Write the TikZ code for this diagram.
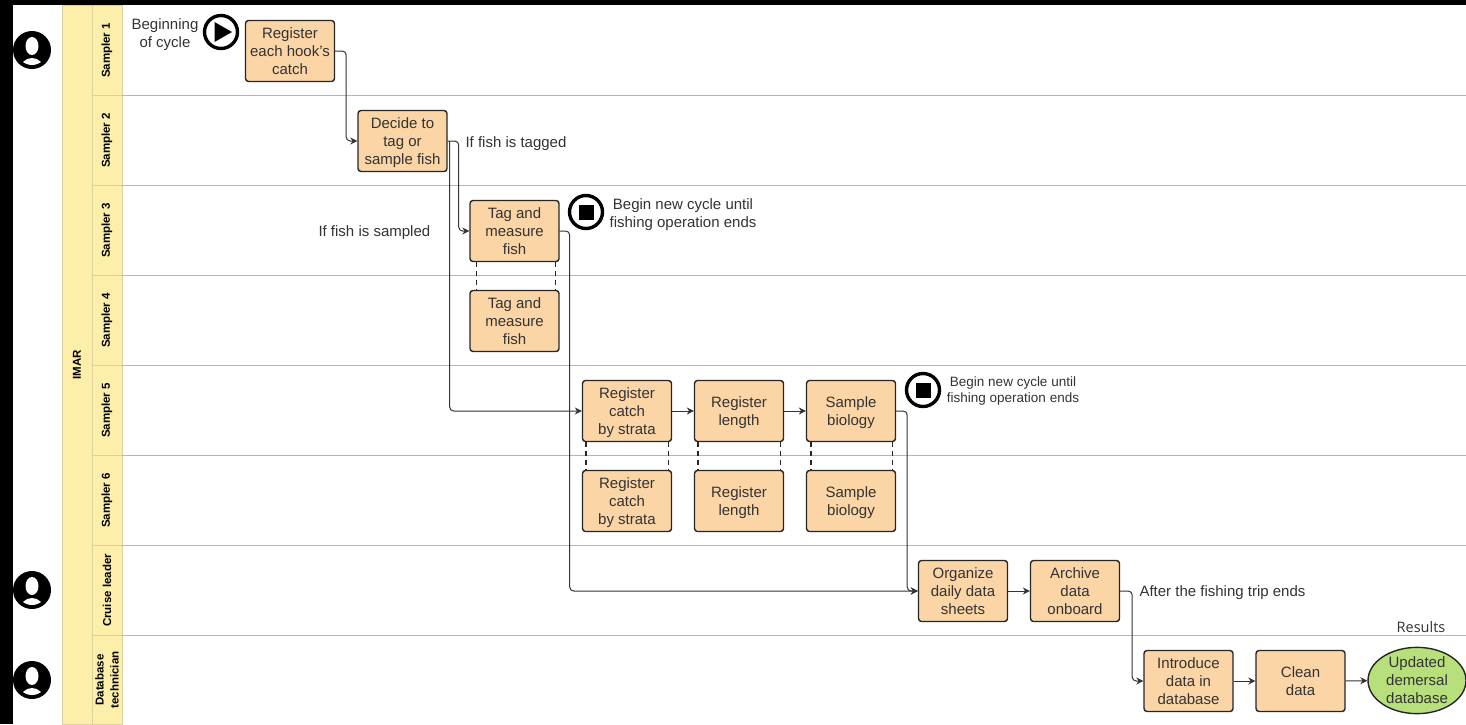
\documentclass[tikz,border=0pt]{standalone}
\usepackage{fontspec}
\setmainfont{Liberation Sans}
\newfontfamily\resultsfont{Open Sans}
\usetikzlibrary{arrows.meta,shapes.geometric}
\definecolor{boxfill}{HTML}{FBD5A6}
\definecolor{bandfill}{HTML}{FDEFA9}
\definecolor{bandline}{HTML}{D9D2A0}
\definecolor{laneline}{HTML}{B5B5B5}
\definecolor{endfill}{HTML}{B7E07C}
\definecolor{inktext}{HTML}{333333}
\tikzset{
every picture/.style={
line width=1pt
}}

\begin{document}
\begin{tikzpicture}[x=1pt, y=-1pt,
every node/.style = {font=\fontsize{15}{18}\selectfont, text=inktext, inner sep=0pt},
block/.style = {rectangle, draw=black!85, line width=1.4pt, rounded corners=3pt, fill=boxfill, align=center, minimum width=89pt, minimum height=61pt, text depth=0pt},
result/.style = {ellipse, draw=black!85, line width=1.4pt, fill=endfill, align=center, minimum width=98pt, minimum height=66pt, text depth=0pt},
band/.style = {rectangle, draw=bandline, fill=bandfill, text=black, minimum height=30pt, minimum width=90pt, font=\fontsize{11.5}{15}\selectfont\bfseries, align=center, rotate=90},
note/.style = {align=left, text depth=0pt},
eventring/.style = {circle, draw=black, line width=3.4pt, fill=white, minimum size=33pt},
flow/.style = {-{Stealth[length=7pt,width=7pt]}, draw=black!80, line width=1pt, rounded corners=4pt},
tie/.style = {draw=black!85, line width=1.4pt, dash pattern=on 5pt off 4pt}]
\useasboundingbox (0,0) rectangle (1466,724);
\fill [black] (0,0) rectangle (1466,724);
\fill [white] (13,5) rectangle (1466,724);

% swimlanes
\node[band, minimum width=719pt] at (77,364.5) (imar) {IMAR};
\foreach \y/\name/\txt in {50.5/s1/Sampler 1, 140.5/s2/Sampler 2, 230.5/s3/Sampler 3, 320.5/s4/Sampler 4, 410.5/s5/Sampler 5, 500.5/s6/Sampler 6, 590.5/cl/Cruise leader}
  \node[band] at (107,\y) (\name) {\txt};
\node[band, minimum width=89pt] at (107,680) (db) {Database\\technician};
\foreach \y in {95.5,185.5,275.5,365.5,455.5,545.5,635.5}
  \draw [laneline] (122,\y) -- (1466,\y);

% people
\foreach \y in {50,590,680} {
  \fill [black] (32,\y) circle (19);
  \begin{scope}
  \clip (32,\y) circle (15);
  \fill [white] (32,\y+20) ellipse (12 and 12);
  \end{scope}
  \fill [white] (32,\y-4) ellipse (6.5 and 9);
}

% events
\node[eventring] at (221,32) (start) {};
\fill [black] (214.5,22) -- (232,32) -- (214.5,42) -- cycle;
\node[eventring] at (586,212) (stopa) {};
\node[rectangle, fill=black, minimum size=15pt] at (586,212) (stopacore) {};
\node[eventring] at (923,390) (stopb) {};
\node[rectangle, fill=black, minimum size=15pt] at (923,390) (stopbcore) {};

% tasks
\node[block] at (290,51) (reg) {Register\\each hook's\\catch};
\node[block] at (402.5,141) (dec) {Decide to\\tag or\\sample fish};
\node[block] at (514.5,231) (tag1) {Tag and\\measure\\fish};
\node[block] at (514.5,321) (tag2) {Tag and\\measure\\fish};
\node[block] at (627,411) (str1) {Register\\catch\\by strata};
\node[block] at (739,411) (len1) {Register\\length};
\node[block] at (851,411) (bio1) {Sample\\biology};
\node[block] at (627,501) (str2) {Register\\catch\\by strata};
\node[block] at (739,501) (len2) {Register\\length};
\node[block] at (851,501) (bio2) {Sample\\biology};
\node[block] at (963,591) (org) {Organize\\daily data\\sheets};
\node[block] at (1075,591) (arc) {Archive\\data\\onboard};
\node[block] at (1188.5,681) (intro) {Introduce\\data in\\database};
\node[block] at (1300.5,681) (cln) {Clean\\data};
\node[result] at (1417,680.5) (upd) {Updated\\demersal\\database};

% labels
\node[note, align=center] at (165,33) (lbegin) {Beginning\\of cycle};
\node[note, anchor=west] at (465,142) (ltag) {If fish is tagged};
\node[note, anchor=west] at (318,231) (lsam) {If fish is sampled};
\node[note, align=center] at (683,213.5) (lnewa) {Begin new cycle until\\fishing operation ends};
\node[note, align=center, font=\fontsize{13.5}{16}\selectfont] at (1013,390) (lnewb) {Begin new cycle until\\fishing operation ends};
\node[note, anchor=west] at (1139,591) (ltrip) {After the fishing trip ends};
\node[note, font=\fontsize{14.5}{18}\resultsfont] at (1421,627) (lres) {Results};

% connectors
\draw [flow] (reg.east) -- ++(11,0) |- (dec.west);
\draw [flow] (dec.east) -- ++(11,0) |- (tag1.west);
\draw [flow] ([xshift=2pt]dec.east) |- (str1.west);
\draw [flow] (tag1.east) -- ++(10,0) |- (org.west);
\draw [flow] (bio1.east) -- ++(11,0) |- (org.west);
\draw [flow] (arc.east) -- ++(12,0) |- (intro.west);
\draw [flow] (str1) -- (len1);
\draw [flow] (len1) -- (bio1);
\draw [flow] (org) -- (arc);
\draw [flow] (intro) -- (cln);
\draw [flow] (cln) -- (upd);
\foreach \a/\b/\off in {tag1/tag2/7pt,str1/str2/4pt,len1/len2/4pt,bio1/bio2/5pt} {
  \draw [tie] ([xshift=\off]\a.south west) -- ([xshift=\off]\b.north west);
  \draw [tie] ([xshift=-4pt]\a.south east) -- ([xshift=-4pt]\b.north east);
}
\end{tikzpicture}
\end{document}
